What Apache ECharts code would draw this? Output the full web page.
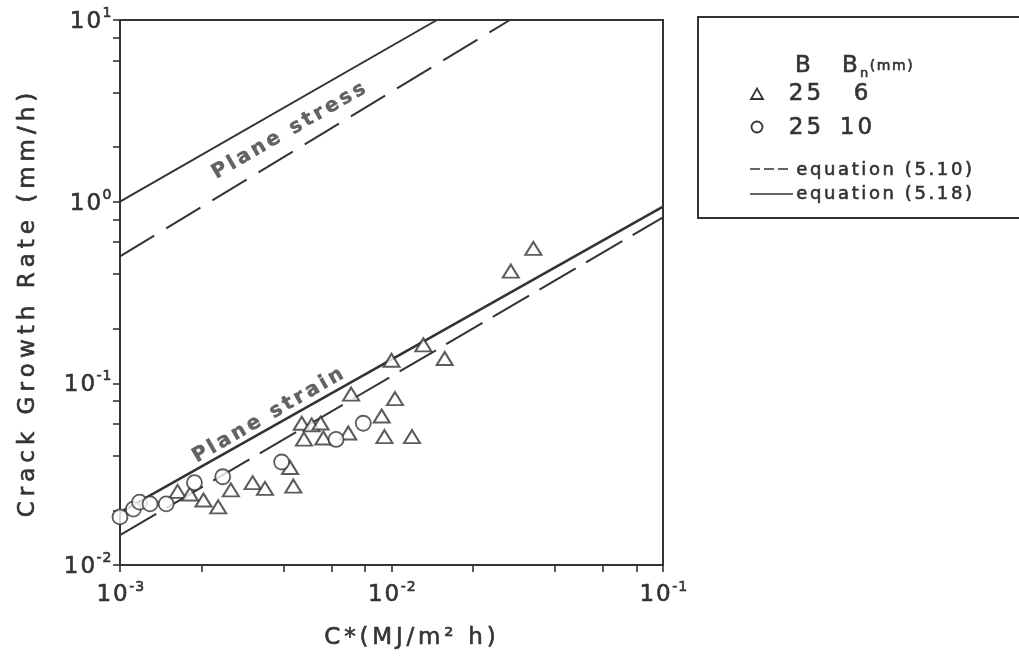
<!DOCTYPE html>
<html>
<head>
<meta charset="utf-8">
<script src="https://cdn.jsdelivr.net/npm/echarts@6/dist/echarts.min.js"></script>
<style>
  html, body { margin: 0; padding: 0; background: #ffffff; }
  #chart { width: 1019px; height: 656px; }
</style>
</head>
<body>
<div id="chart"></div>
<script>
const FONT = '"DejaVu Sans", "Liberation Sans", Arial, sans-serif';
const INK = '#333333';

// Axis ticks (decades plus 2, 4, 6, 8) and the decade labels
const xTicks = [0.001, 0.002, 0.004, 0.006, 0.008, 0.01, 0.02, 0.04, 0.06, 0.08, 0.1];
const yTicks = [0.01, 0.02, 0.04, 0.06, 0.08, 0.1, 0.2, 0.4, 0.6, 0.8, 1, 2, 4, 6, 8, 10];
const xLabels = [0.001, 0.01, 0.1];
const yLabels = [0.01, 0.1, 1, 10];

// Measured crack growth rate (mm/h) against C* (MJ/m^2 h), B = 25 mm, Bn = 6 mm
const bn6 = [
  [1.63e-3, 0.0254], [1.81e-3, 0.0246], [2.03e-3, 0.0228], [2.30e-3, 0.0209],
  [2.56e-3, 0.0259], [3.08e-3, 0.0284], [3.42e-3, 0.0264], [4.23e-3, 0.0344],
  [4.35e-3, 0.0272], [4.67e-3, 0.0603], [4.76e-3, 0.0493], [5.08e-3, 0.0590],
  [5.48e-3, 0.0605], [5.61e-3, 0.0500], [6.93e-3, 0.0533], [7.10e-3, 0.0873],
  [9.20e-3, 0.0661], [9.42e-3, 0.0509], [1.00e-2, 0.134], [1.03e-2, 0.0824],
  [1.19e-2, 0.0509], [1.31e-2, 0.163], [1.57e-2, 0.137], [2.75e-2, 0.415],
  [3.33e-2, 0.553]
];

// B = 25 mm, Bn = 10 mm
const bn10 = [
  [1.00e-3, 0.0184], [1.12e-3, 0.0203], [1.18e-3, 0.0222], [1.29e-3, 0.0217],
  [1.48e-3, 0.0217], [1.88e-3, 0.0284], [2.39e-3, 0.0306], [3.94e-3, 0.0369],
  [6.25e-3, 0.0491], [7.87e-3, 0.0603]
];

// Predicted lines (straight on log-log axes), given by their end points
const stressEq518 = [[0.001, 1.0], [0.0147, 10]];
const stressEq510 = [[0.001, 0.5], [0.0273, 10]];
const strainEq518 = [[0.001, 0.0195], [0.1, 0.94]];
const strainEq510 = [[0.001, 0.0146], [0.1, 0.82]];

// Anchor points of the in-plot captions
const stressCaptionAt = [[4.19e-3, 2.45]];
const strainCaptionAt = [[3.51e-3, 0.0664]];

const Y_NAME = 'Crack Growth Rate (mm/h)';
const X_NAME = 'C*(MJ/m² h)';

// Wraps every character in its own rich token so the padding adds tracking
function tracked(text, style) {
  return Array.from(text).map(function (ch) {
    return '{' + style + '|' + ch + '}';
  }).join('');
}

// Rich token style for chart labels; a thin outline gives heavier strokes
function tok(size, pad, extra) {
  return Object.assign({
    fontSize: size, fontFamily: FONT, color: INK,
    textBorderColor: INK, textBorderWidth: 0.6,
    padding: [0, pad, 0, pad]
  }, extra || {});
}

// Same, written with the renderer's own style keys for graphic text
function gtok(size, pad) {
  return {
    fontSize: size, fontFamily: FONT, fill: INK,
    stroke: INK, lineWidth: 0.6,
    padding: [0, pad, 0, pad]
  };
}

const powerRich = {
  b: tok(23, 1, { verticalAlign: 'bottom', lineHeight: 27 }),
  s: tok(14, 0.5, { verticalAlign: 'top', lineHeight: 16 })
};

function powerLabel(v) {
  const e = Math.round(Math.log10(v));
  return tracked('10', 'b') + tracked(String(e), 's');
}

function lineSeries(name, data, type, width) {
  return {
    name: name, type: 'line', data: data, showSymbol: false, silent: true,
    clip: true, z: 2,
    lineStyle: { color: INK, width: width, type: type, cap: 'butt' }
  };
}

function captionSeries(data, text) {
  return {
    type: 'scatter', data: data, symbolSize: 0, silent: true, z: 4,
    label: {
      show: true, position: 'inside', rotate: 30,
      formatter: function () { return tracked(text, 'c'); },
      rich: { c: tok(20, 1.6, { fontWeight: 'bold', color: '#3c3c3c', textBorderColor: '#3c3c3c', textBorderWidth: 0.4 }) }
    }
  };
}

function textEl(x, y, text, size, pad, align, rotation) {
  const el = {
    type: 'text', x: x, y: y, silent: true,
    style: {
      legacy: false, text: text, align: align || 'center', verticalAlign: 'middle',
      rich: { t: gtok(size, pad) }
    }
  };
  if (rotation) el.rotation = rotation;
  return el;
}

const chart = echarts.init(document.getElementById('chart'), null, { renderer: 'canvas' });

chart.setOption({
  backgroundColor: '#ffffff',
  animation: false,
  grid: {
    left: 120, top: 20, right: 356, bottom: 91,
    show: true, borderColor: INK, borderWidth: 2, backgroundColor: 'transparent',
    outerBoundsMode: 'none'
  },
  xAxis: {
    type: 'log', logBase: 10, min: 0.001, max: 0.1,
    axisLine: { show: true, lineStyle: { color: INK, width: 2 } },
    axisTick: { show: true, inside: false, length: 7, customValues: xTicks,
      lineStyle: { color: INK, width: 1.6 } },
    minorTick: { show: false },
    splitLine: { show: false },
    axisLabel: { show: true, margin: 15, customValues: xLabels,
      formatter: powerLabel, rich: powerRich }
  },
  yAxis: {
    type: 'log', logBase: 10, min: 0.01, max: 10,
    axisLine: { show: true, lineStyle: { color: INK, width: 2 } },
    axisTick: { show: true, inside: false, length: 7, customValues: yTicks,
      lineStyle: { color: INK, width: 1.6 } },
    minorTick: { show: false },
    splitLine: { show: false },
    axisLabel: { show: true, margin: 8, customValues: yLabels,
      formatter: powerLabel, rich: powerRich }
  },
  series: [
    lineSeries('equation (5.18) plane stress', stressEq518, 'solid', 2),
    lineSeries('equation (5.10) plane stress', stressEq510, [40, 14], 2),
    lineSeries('equation (5.18) plane strain', strainEq518, 'solid', 2.6),
    lineSeries('equation (5.10) plane strain', strainEq510, [42, 12], 2),
    {
      name: 'B 25, Bn 6', type: 'scatter', data: bn6, symbol: 'triangle',
      symbolSize: [16, 13], clip: false, z: 3,
      itemStyle: { color: '#ffffff', borderColor: INK, borderWidth: 2 }
    },
    {
      name: 'B 25, Bn 10', type: 'scatter', data: bn10, symbol: 'circle',
      symbolSize: 15, clip: false, z: 3,
      itemStyle: { color: '#ffffff', borderColor: INK, borderWidth: 1.8 }
    },
    captionSeries(stressCaptionAt, 'Plane stress'),
    captionSeries(strainCaptionAt, 'Plane strain')
  ],
  graphic: [
    // axis titles
    textEl(28, 305, tracked(Y_NAME, 't'), 23, 2.5, 'center', Math.PI / 2),
    textEl(410, 638, tracked(X_NAME, 't'), 23, 1.9, 'center'),
    // key box
    {
      type: 'rect', silent: true,
      shape: { x: 698, y: 17, width: 340, height: 201 },
      style: { fill: 'none', stroke: INK, lineWidth: 2 }
    },
    textEl(803, 66, tracked('B', 't'), 23, 0),
    textEl(850, 66, tracked('B', 't'), 23, 0),
    textEl(864, 74, tracked('n', 't'), 13, 0),
    textEl(869, 66, tracked('(mm)', 't'), 14, 0.8, 'left'),
    {
      type: 'polygon', silent: true,
      shape: { points: [[751, 99], [763, 99], [757, 88.5]] },
      style: { fill: '#ffffff', stroke: INK, lineWidth: 1.8 }
    },
    textEl(805, 94, tracked('25', 't'), 23, 1.5),
    textEl(861, 94, tracked('6', 't'), 23, 0),
    {
      type: 'circle', silent: true,
      shape: { cx: 757, cy: 127, r: 5.5 },
      style: { fill: '#ffffff', stroke: INK, lineWidth: 1.8 }
    },
    textEl(805, 128, tracked('25', 't'), 23, 1.5),
    textEl(856, 128, tracked('10', 't'), 23, 1.5),
    {
      type: 'line', silent: true,
      shape: { x1: 750, y1: 169, x2: 792, y2: 169 },
      style: { stroke: INK, lineWidth: 1.6, lineDash: [10, 4] }
    },
    textEl(795, 170, tracked('equation (5.10)', 't'), 18, 1.3, 'left'),
    {
      type: 'line', silent: true,
      shape: { x1: 750, y1: 194, x2: 793, y2: 194 },
      style: { stroke: INK, lineWidth: 1.6 }
    },
    textEl(795, 194, tracked('equation (5.18)', 't'), 18, 1.3, 'left')
  ]
});
</script>
</body>
</html>
